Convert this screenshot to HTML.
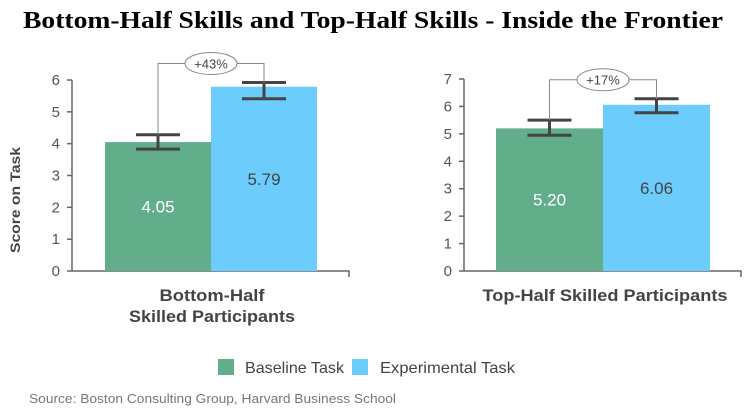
<!DOCTYPE html>
<html><head><meta charset="utf-8"><style>
body{margin:0;background:#fff;}
svg{display:block;font-family:"Liberation Sans",sans-serif;}
</style></head><body>
<svg id="c" width="746" height="412" viewBox="0 0 746 412">
<text x="373" y="28" text-anchor="middle" font-family="Liberation Serif" font-weight="bold" font-size="24" textLength="700" lengthAdjust="spacingAndGlyphs" fill="#000">Bottom-Half Skills and Top-Half Skills - Inside the Frontier</text>
<text transform="translate(20,200) rotate(-90)" text-anchor="middle" font-weight="bold" font-size="14" fill="#444" textLength="106" lengthAdjust="spacingAndGlyphs">Score on Task</text>
<g id="legend">
<rect x="218" y="359" width="16" height="16" fill="#62ae8a"/>
<text x="245" y="373" font-size="16" fill="#444" textLength="99" lengthAdjust="spacingAndGlyphs">Baseline Task</text>
<rect x="352" y="359" width="16" height="16" fill="#6ccdfd"/>
<text x="380" y="373" font-size="16" fill="#444" textLength="135" lengthAdjust="spacingAndGlyphs">Experimental Task</text>
</g>
<text x="29" y="403" font-size="13" fill="#777" textLength="367" lengthAdjust="spacingAndGlyphs">Source: Boston Consulting Group, Harvard Business School</text>
</svg>
<script>
const panels = ["Bottom-Half Skilled Participants","Top-Half Skilled Participants"];
const baselineValues = [4.05, 5.20];
const experimentalValues = [5.79, 6.06];
const baselineErrHigh = [4.28, 5.50];
const baselineErrLow = [3.83, 4.95];
const experimentalErrHigh = [5.92, 6.28];
const experimentalErrLow = [5.41, 5.77];
const yMaxes = [6, 7];
const pctLabels = ["+43%", "+17%"];
const valueLabels = [["4.05","5.79"],["5.20","6.06"]];

const NS="http://www.w3.org/2000/svg";
const svg=document.getElementById('c');
function mk(tag,attrs,parent){const e=document.createElementNS(NS,tag);for(const k in attrs)e.setAttribute(k,attrs[k]);(parent||svg).appendChild(e);return e;}
const layout=[{ax:72,end:349,b0:105,bw:106,yTop:80,lab:[[212,301,"Bottom-Half",105],[212,322,"Skilled Participants",166]]},
              {ax:464,end:741,b0:496,bw:107,yTop:79,lab:[[605,301,"Top-Half Skilled Participants",245]]}];
const y0=271;
panels.forEach((p,i)=>{
  const L=layout[i];
  const y=v=>y0-(v/yMaxes[i])*(y0-L.yTop);
  const g=mk('g',{});
  
  
  const ax=mk('path',{d:`M${L.ax},${L.yTop} V${y0} H${L.end} V${y0+6}`,stroke:'#666','stroke-width':1.5,fill:'none'},g);
  
  
  for(let t=0;t<=yMaxes[i];t++){
    const tk=mk('line',{x1:L.ax-5,x2:L.ax,y1:y(t),y2:y(t),stroke:'#666','stroke-width':1.5},g);
    
    
    const tl=mk('text',{x:L.ax-12,y:y(t)+5,'text-anchor':'end','font-size':15,fill:'#555'},g);
    tl.textContent=t;
    
    
  }
  const vals=[baselineValues[i],experimentalValues[i]];
  const hi=[baselineErrHigh[i],experimentalErrHigh[i]], lo=[baselineErrLow[i],experimentalErrLow[i]];
  const cols=['#62ae8a','#6ccdfd'], tcol=['#fff','#444'];
  const cx=[];
  vals.forEach((v,j)=>{
    const x=L.b0+j*L.bw;
    const r=mk('rect',{x:x,y:y(v),width:L.bw,height:y0-y(v),fill:cols[j]},g);
    
    
    const c=x+L.bw/2; cx.push(c);
    const vt=mk('text',{x:c,y:(y(v)+y0)/2+6,'text-anchor':'middle','font-size':17,fill:tcol[j]},g);
    vt.textContent=valueLabels[i][j];
    
    
    const eb=mk('path',{d:`M${c-22},${y(hi[j])} H${c+22} M${c-22},${y(lo[j])} H${c+22} M${c},${y(hi[j])} V${y(lo[j])}`,stroke:'#444','stroke-width':3,fill:'none'},g);
    
    
  });
  const by=Math.min(y(hi[0]),y(hi[1]))-19;
  const br=mk('path',{d:`M${cx[0]-(i?0:0)},${y(hi[0])} V${by} H${cx[1]} V${y(hi[1])}`,stroke:'#888','stroke-width':1,fill:'none'},g);
  
  
  const mid=(cx[0]+cx[1])/2;
  const el=mk('ellipse',{cx:mid,cy:by,rx:26,ry:11,fill:'#fff',stroke:'#888','stroke-width':1},g);
  
  
  const pt=mk('text',{x:mid,y:by+5,'text-anchor':'middle','font-size':13,fill:'#444'},g);
  pt.textContent=pctLabels[i];
  
  
  L.lab.forEach(l=>{
    const ct=mk('text',{x:l[0],y:l[1],'text-anchor':'middle','font-size':17,'font-weight':'bold',fill:'#444',textLength:l[3],lengthAdjust:'spacingAndGlyphs'},g);
    ct.textContent=l[2];
    
    
  });
});
</script>
</body></html>
